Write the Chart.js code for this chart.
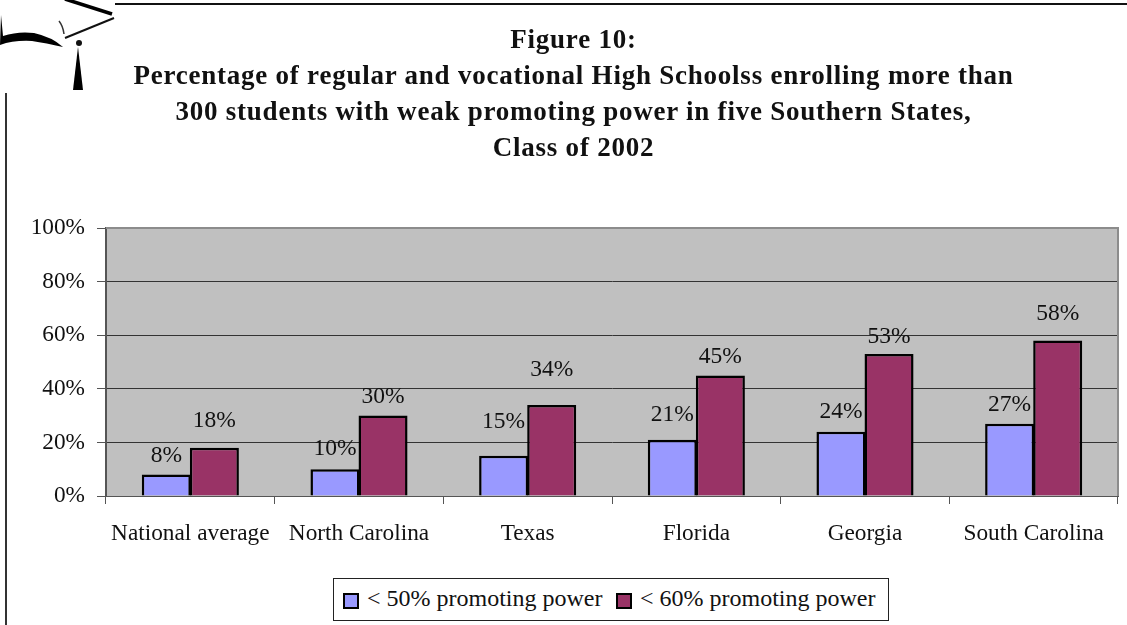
<!DOCTYPE html>
<html>
<head>
<meta charset="utf-8">
<title>Figure 10</title>
<script src="https://cdn.jsdelivr.net/npm/chart.js@4"></script>
<style>
    html, body { margin: 0; padding: 0; background: #fff; }
    #page { position: relative; width: 1127px; height: 625px; overflow: hidden; }
    #cap { position: absolute; left: 0; top: 0; }
    #rule { position: absolute; left: 115px; top: 3px; width: 1012px; height: 2px; background: #111; }
    #side { position: absolute; left: 5px; top: 93px; width: 2px; height: 532px; background: #333; }
    #heading {
        position: absolute; left: 0; top: 21px; width: 1147px; text-align: center;
        font: bold 27px/36px "Liberation Serif", serif; letter-spacing: 0.77px; color: #111;
    }
    #chart-box { position: absolute; left: 0; top: 0; width: 1127px; height: 625px; }
    #legend {
        position: absolute; left: 333px; top: 578px; width: 554px; height: 41px;
        border: 1px solid #222; background: #fff; color: #111;
        font: 24px/38px "Liberation Serif", serif; white-space: nowrap;
    }
    #legend .item { position: absolute; top: 0; }
    #legend .swatch {
        position: absolute; left: -24px; top: 14px; width: 12px; height: 12px; border: 2px solid #000;
    }
</style>
</head>
<body>
<div id="page">
    <div id="chart-box"><canvas id="promoting-chart" width="1127" height="625"></canvas></div>
    <!-- mortarboard in the page corner -->
    <svg id="cap" width="120" height="95" viewBox="0 0 120 95">
        <path d="M65 -1 L112 14" stroke="#000" stroke-width="3.5" fill="none"/>
        <path d="M65 38 L114 18" stroke="#111" stroke-width="2" fill="none"/>
        <path d="M59 21 Q63 26 64 34" stroke="#333" stroke-width="1.5" fill="none"/>
        <path d="M1 15 L3 36 Q18 31 34 33 Q52 37 63 47 Q46 43 32 41 Q14 40 0 45 Z" fill="#000"/>
        <circle cx="79" cy="43" r="3" fill="#111"/>
        <path d="M78 47 L83 90 L73 90 Z" fill="#000"/>
    </svg>
    <div id="rule"></div>
    <div id="side"></div>
    <div id="heading">Figure 10:<br>Percentage of regular and vocational High Schoolss enrolling more than<br>300 students with weak promoting power in five Southern States,<br>Class of 2002</div>
    <div id="legend"></div>
</div>

<script>
// states along the x axis
let states = ['National average', 'North Carolina', 'Texas', 'Florida', 'Georgia', 'South Carolina']

// percent of high schools in each state
let under50 = [8, 10, 15, 21, 24, 27]
let under60 = [18, 30, 34, 45, 53, 58]

let under50Label = '< 50% promoting power'
let under60Label = '< 60% promoting power'

let yTicks = [0, 20, 40, 60, 80, 100]

// how far above its bar each percent label sits, one list per series
let labelLift = [
    [19, 20, 34, 25, 20, 19],
    [27, 19, 35, 19, 17, 27],
]

// where each legend entry's text starts inside the legend box
let legendTextLeft = [33, 306]

let serif = '"Liberation Serif", serif'
let textColor = '#111'

// grey plot background with the lighter frame on top and right
let plotFrame = {
    id: 'plotFrame',
    beforeDraw(chart) {
        let ctx = chart.ctx
        let a = chart.chartArea
        ctx.save()
        ctx.fillStyle = '#c0c0c0'
        ctx.fillRect(a.left, a.top, a.width, a.height)
        ctx.restore()
    },
    afterDatasetsDraw(chart) {
        let ctx = chart.ctx
        let a = chart.chartArea
        ctx.save()
        ctx.strokeStyle = '#8c8c8c'
        ctx.lineWidth = 2
        ctx.beginPath()
        ctx.moveTo(a.left, a.top)
        ctx.lineTo(a.right, a.top)
        ctx.lineTo(a.right, a.bottom)
        ctx.stroke()
        ctx.restore()
    }
}

// percent labels over the bars
let barLabels = {
    id: 'barLabels',
    afterDatasetsDraw(chart) {
        let ctx = chart.ctx
        ctx.save()
        ctx.font = '23.5px ' + serif
        ctx.fillStyle = textColor
        ctx.textAlign = 'center'
        ctx.textBaseline = 'middle'
        chart.data.datasets.forEach(function(dataset, d) {
            chart.getDatasetMeta(d).data.forEach(function(bar, i) {
                ctx.fillText(dataset.data[i] + '%', bar.x, bar.y - labelLift[d][i])
            })
        })
        ctx.restore()
    }
}

let canvas = document.querySelector('#promoting-chart')
let context = canvas.getContext('2d')

let chart = new Chart(context, {
    type: 'bar',
    plugins: [plotFrame, barLabels],
    data: {
        labels: states,
        datasets: [
            { label: under50Label, data: under50, backgroundColor: '#9999ff', borderColor: '#000', borderWidth: 2.5 },
            { label: under60Label, data: under60, backgroundColor: '#993366', borderColor: '#000', borderWidth: 2.5 },
        ]
    },
    options: {
        responsive: false,
        animation: false,
        layout: { padding: { top: 228, right: 9, bottom: 60, left: 0 } },
        // slight overlap so neighbouring bars share one dividing line
        datasets: { bar: { categoryPercentage: 0.57, barPercentage: 1.02 } },
        plugins: {
            title: { display: false },
            tooltip: { enabled: false },
            legend: { display: false },
        },
        scales: {
            x: {
                afterFit(scale) { scale.height = 69 },
                border: { color: '#555', width: 1 },
                grid: { drawOnChartArea: false, tickLength: 8, tickColor: '#555', offset: true },
                ticks: {
                    color: textColor,
                    font: { family: serif, size: 23.3 },
                    padding: 16,
                    maxRotation: 0,
                    autoSkip: false,
                }
            },
            y: {
                min: 0,
                max: 100,
                afterFit(scale) { scale.width = 106 },
                afterBuildTicks(scale) { scale.ticks = yTicks.map(v => ({ value: v })) },
                border: { color: '#555', width: 2 },
                grid: { color: '#333', lineWidth: 1, tickLength: 9, tickColor: '#555' },
                ticks: {
                    color: textColor,
                    font: { family: serif, size: 23.3 },
                    padding: 12,
                    callback: v => v + '%',
                }
            }
        }
    }
})

// legend entries come from the chart's own datasets
let legend = document.querySelector('#legend')
chart.data.datasets.forEach(function(dataset, d) {
    let item = document.createElement('span')
    item.className = 'item'
    item.style.left = legendTextLeft[d] + 'px'
    let swatch = document.createElement('span')
    swatch.className = 'swatch'
    swatch.style.background = dataset.backgroundColor
    item.appendChild(swatch)
    item.appendChild(document.createTextNode(dataset.label))
    legend.appendChild(item)
})
</script>
</body>
</html>
